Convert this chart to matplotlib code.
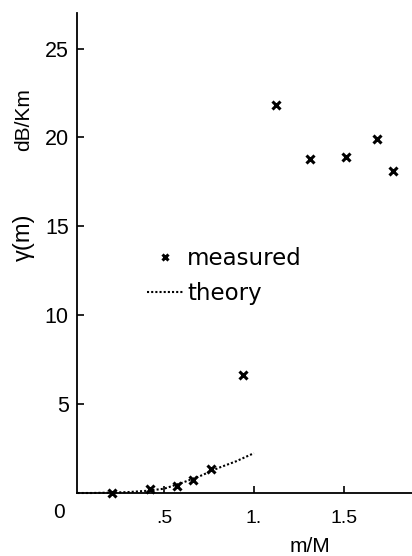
import matplotlib
matplotlib.use("Agg")
import matplotlib.pyplot as plt

# data
meas_x = [0.21, 0.42, 0.57, 0.66, 0.76, 0.94, 1.12, 1.31, 1.51, 1.685, 1.77]
meas_y = [0.02, 0.2, 0.4, 0.75, 1.33, 6.65, 21.8, 18.8, 18.9, 19.9, 18.1]

theory_x = [0.02, 0.1, 0.2, 0.3, 0.4, 0.5, 0.6, 0.7, 0.8, 0.9, 1.0]
theory_y = [0.0, 0.0, 0.02, 0.05, 0.12, 0.24, 0.57, 0.95, 1.4, 1.78, 2.24]

xticks = [0.5, 1.0, 1.5]
xticklabels = [".5", "1.", "1.5"]
yticks = [5, 10, 15, 20, 25]

plt.rcParams['font.family'] = ['Liberation Sans', 'DejaVu Sans']

fig = plt.figure(figsize=(4.12, 5.56), dpi=100)
ax = fig.add_axes([77 / 412, 63 / 556, 335 / 412, 480 / 556])

ax.plot(theory_x, theory_y, linestyle=(0, (1, 1.0)), color='black', lw=1.5,
        label='theory', clip_on=False)
ax.plot(meas_x, meas_y, linestyle='none', marker='x', color='black',
        markersize=5.5, mew=2.2, label='measured', clip_on=False)

ax.set_xlim(0.017, 1.878)
ax.set_ylim(0, 27.0)
ax.spines['top'].set_visible(False)
ax.spines['right'].set_visible(False)
ax.spines['left'].set_linewidth(1.3)
ax.spines['bottom'].set_linewidth(1.3)

ax.set_xticks(xticks)
ax.set_xticklabels(xticklabels)
ax.set_yticks(yticks)
ax.tick_params(direction='in', length=5, width=1.2)
ax.tick_params(axis='x', pad=12, labelsize=14)
ax.tick_params(axis='y', pad=6, labelsize=15.5)

# origin label
ax.text(-0.055, -0.04, "0", transform=ax.transAxes, fontsize=15,
        ha='center', va='center')

fig.text(24 / 412, 1 - 120 / 556, "dB/Km", rotation=90, fontsize=15,
         ha='center', va='center')
fig.text(24 / 412, 1 - 237 / 556, "γ(m)", rotation=90, fontsize=17,
         ha='center', va='center')
fig.text(310 / 412, 1 - 546 / 556, "m/M", fontsize=15, ha='center', va='center')

h, l = ax.get_legend_handles_labels()
ax.legend([h[1], h[0]], [l[1], l[0]], loc='upper left',
          bbox_to_anchor=(0.209, 0.513), frameon=False,
          handlelength=1.6, handletextpad=0.15, labelspacing=0.55,
          borderpad=0, borderaxespad=0, markerscale=0.75,
          prop={'family': 'DejaVu Sans', 'size': 16.5})

fig.savefig("out.png", dpi=100)
